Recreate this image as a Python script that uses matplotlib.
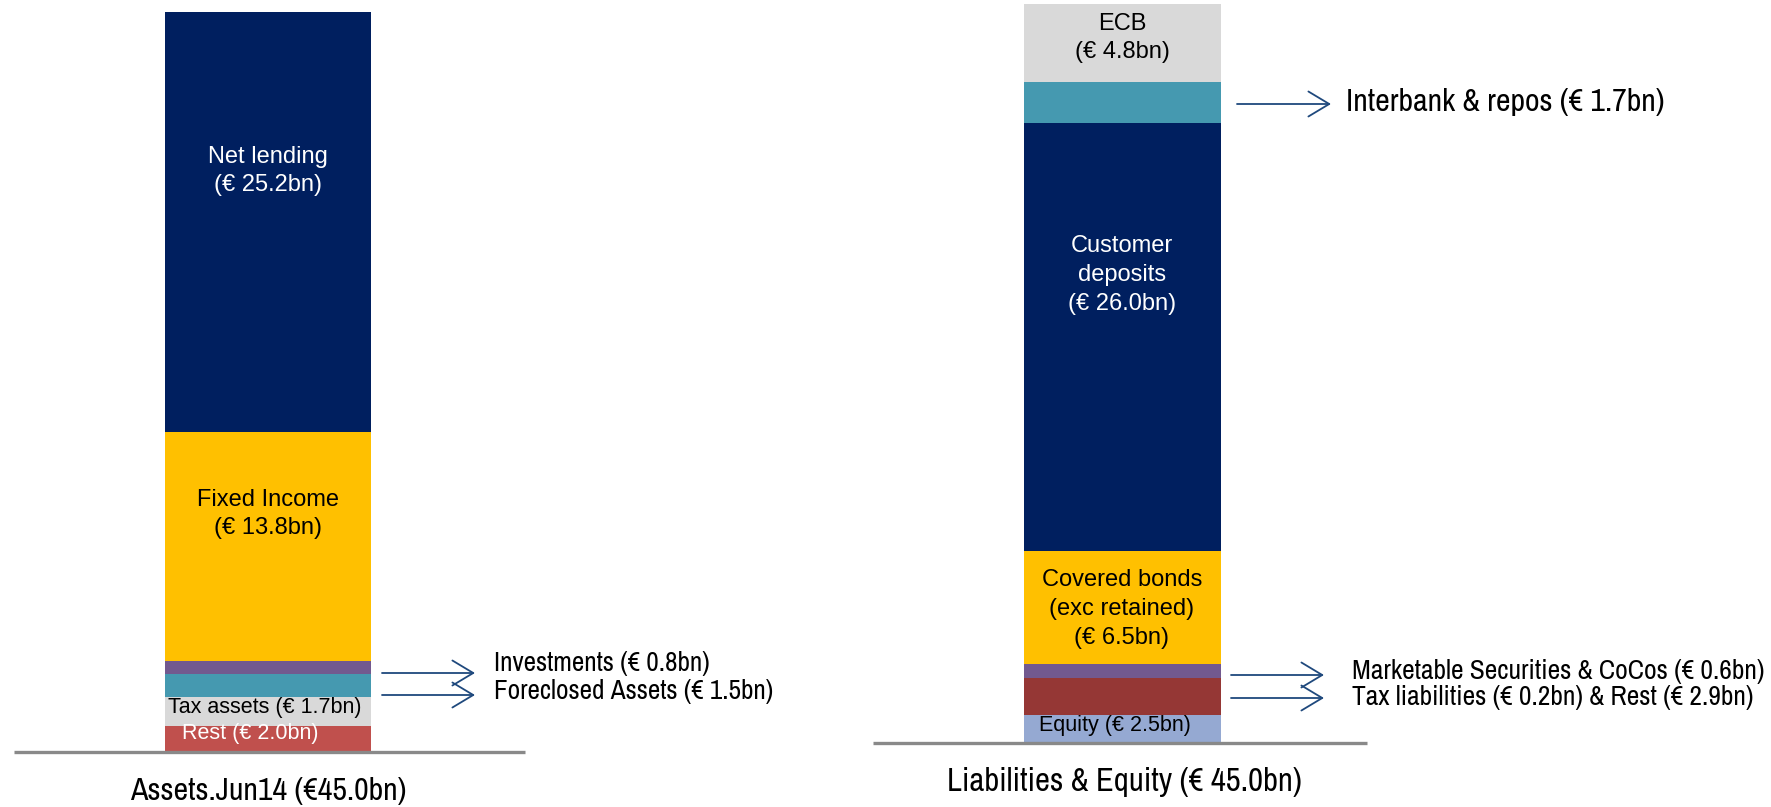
import matplotlib
matplotlib.use("Agg")
import matplotlib.pyplot as plt

W, H = 1771, 807

# segment heights (bn) as drawn, bottom to top
asset_labels = ["Rest", "Tax assets", "Foreclosed Assets", "Investments", "Fixed Income", "Net lending"]
asset_values = [1.5, 1.8, 1.4, 0.75, 14.0, 25.55]
asset_colors = ["#C0504D", "#D9D9D9", "#4599B0", "#72598F", "#FFC000", "#001F5F"]

liab_labels = ["Equity", "Tax liabilities & Rest", "Marketable Securities & CoCos",
               "Covered bonds", "Customer deposits", "Interbank & repos", "ECB"]
liab_values = [1.65, 2.25, 0.85, 6.9, 26.1, 2.5, 4.75]
liab_colors = ["#95A9D2", "#953735", "#72598F", "#FFC000", "#001F5F", "#4599B0", "#D9D9D9"]

NARROW = ["Archivo Narrow", "PT Sans Narrow", "Liberation Sans", "DejaVu Sans"]
ARIAL = ["Liberation Sans", "DejaVu Sans"]
ARROW = "#1F497D"

fig = plt.figure(figsize=(W / 100, H / 100), dpi=100)


def bar_axes(base_px, top_px, total):
    # full-figure axes, x in pixels, y in bn
    ax = fig.add_axes([0, 0, 1, 1])
    k = (base_px - top_px) / total
    ax.set_xlim(0, W)
    ax.set_ylim(-(H - base_px) / k, base_px / k)
    ax.axis("off")
    ax.patch.set_alpha(0)
    return ax


def stack(ax, x0, x1, values, colors):
    bottom = 0
    for v, c in zip(values, colors):
        ax.bar((x0 + x1) / 2, v, width=x1 - x0, bottom=bottom, color=c, linewidth=0)
        bottom += v


ax1 = bar_axes(751, 12, sum(asset_values))
stack(ax1, 165, 371, asset_values, asset_colors)
ax1.plot([14, 525], [-0.05, -0.05], color="#898989", lw=2.4, solid_capstyle="butt")

ax2 = bar_axes(742, 4, sum(liab_values))
stack(ax2, 1024, 1221, liab_values, liab_colors)
ax2.plot([873, 1367], [-0.05, -0.05], color="#898989", lw=2.4, solid_capstyle="butt")


def txt(x, y, s, size, color="black", family=ARIAL, ha="center"):
    fig.text(x / W, 1 - y / H, s, ha=ha, va="center", fontsize=size, color=color,
             family=family, linespacing=1.4)


def arrow(x0, x1, y):
    fig.add_artist(matplotlib.patches.FancyArrowPatch(
        (x0 / W, 1 - y / H), (x1 / W, 1 - y / H), transform=fig.transFigure,
        arrowstyle="->,head_length=0.75,head_width=0.45", mutation_scale=20,
        color=ARROW, lw=1.3, shrinkA=0, shrinkB=0))


# assets labels
txt(268, 171, "Net lending\n(€ 25.2bn)", 17, "white")
txt(268, 514, "Fixed Income\n(€ 13.8bn)", 17)
txt(265, 707, "Tax assets (€ 1.7bn)", 15.5)
txt(250, 733, "Rest (€ 2.0bn)", 15.5, "white")
arrow(382, 475, 673)
arrow(382, 475, 695)
txt(494, 664, "Investments (€ 0.8bn)", 19.6, family=NARROW, ha="left")
txt(494, 692, "Foreclosed Assets (€ 1.5bn)", 19.6, family=NARROW, ha="left")
txt(268, 791, "Assets.Jun14 (€45.0bn)", 23, family=NARROW)

# liabilities labels
txt(1122, 38, "ECB\n(€ 4.8bn)", 17)
txt(1122, 275, "Customer\ndeposits\n(€ 26.0bn)", 17, "white")
txt(1122, 609, "Covered bonds\n(exc retained)\n(€ 6.5bn)", 17)
txt(1115, 725, "Equity (€ 2.5bn)", 15.5)
arrow(1237, 1331, 104)
txt(1346, 102, "Interbank & repos (€ 1.7bn)", 23, family=NARROW, ha="left")
arrow(1231, 1324, 675)
arrow(1231, 1324, 698)
txt(1352, 671, "Marketable Securities & CoCos (€ 0.6bn)", 19.8, family=NARROW, ha="left")
txt(1352, 697, "Tax liabilities (€ 0.2bn) & Rest (€ 2.9bn)", 19.8, family=NARROW, ha="left")
txt(1124, 782, "Liabilities & Equity (€ 45.0bn)", 23.5, family=NARROW)

fig.savefig("out.png", dpi=100)
